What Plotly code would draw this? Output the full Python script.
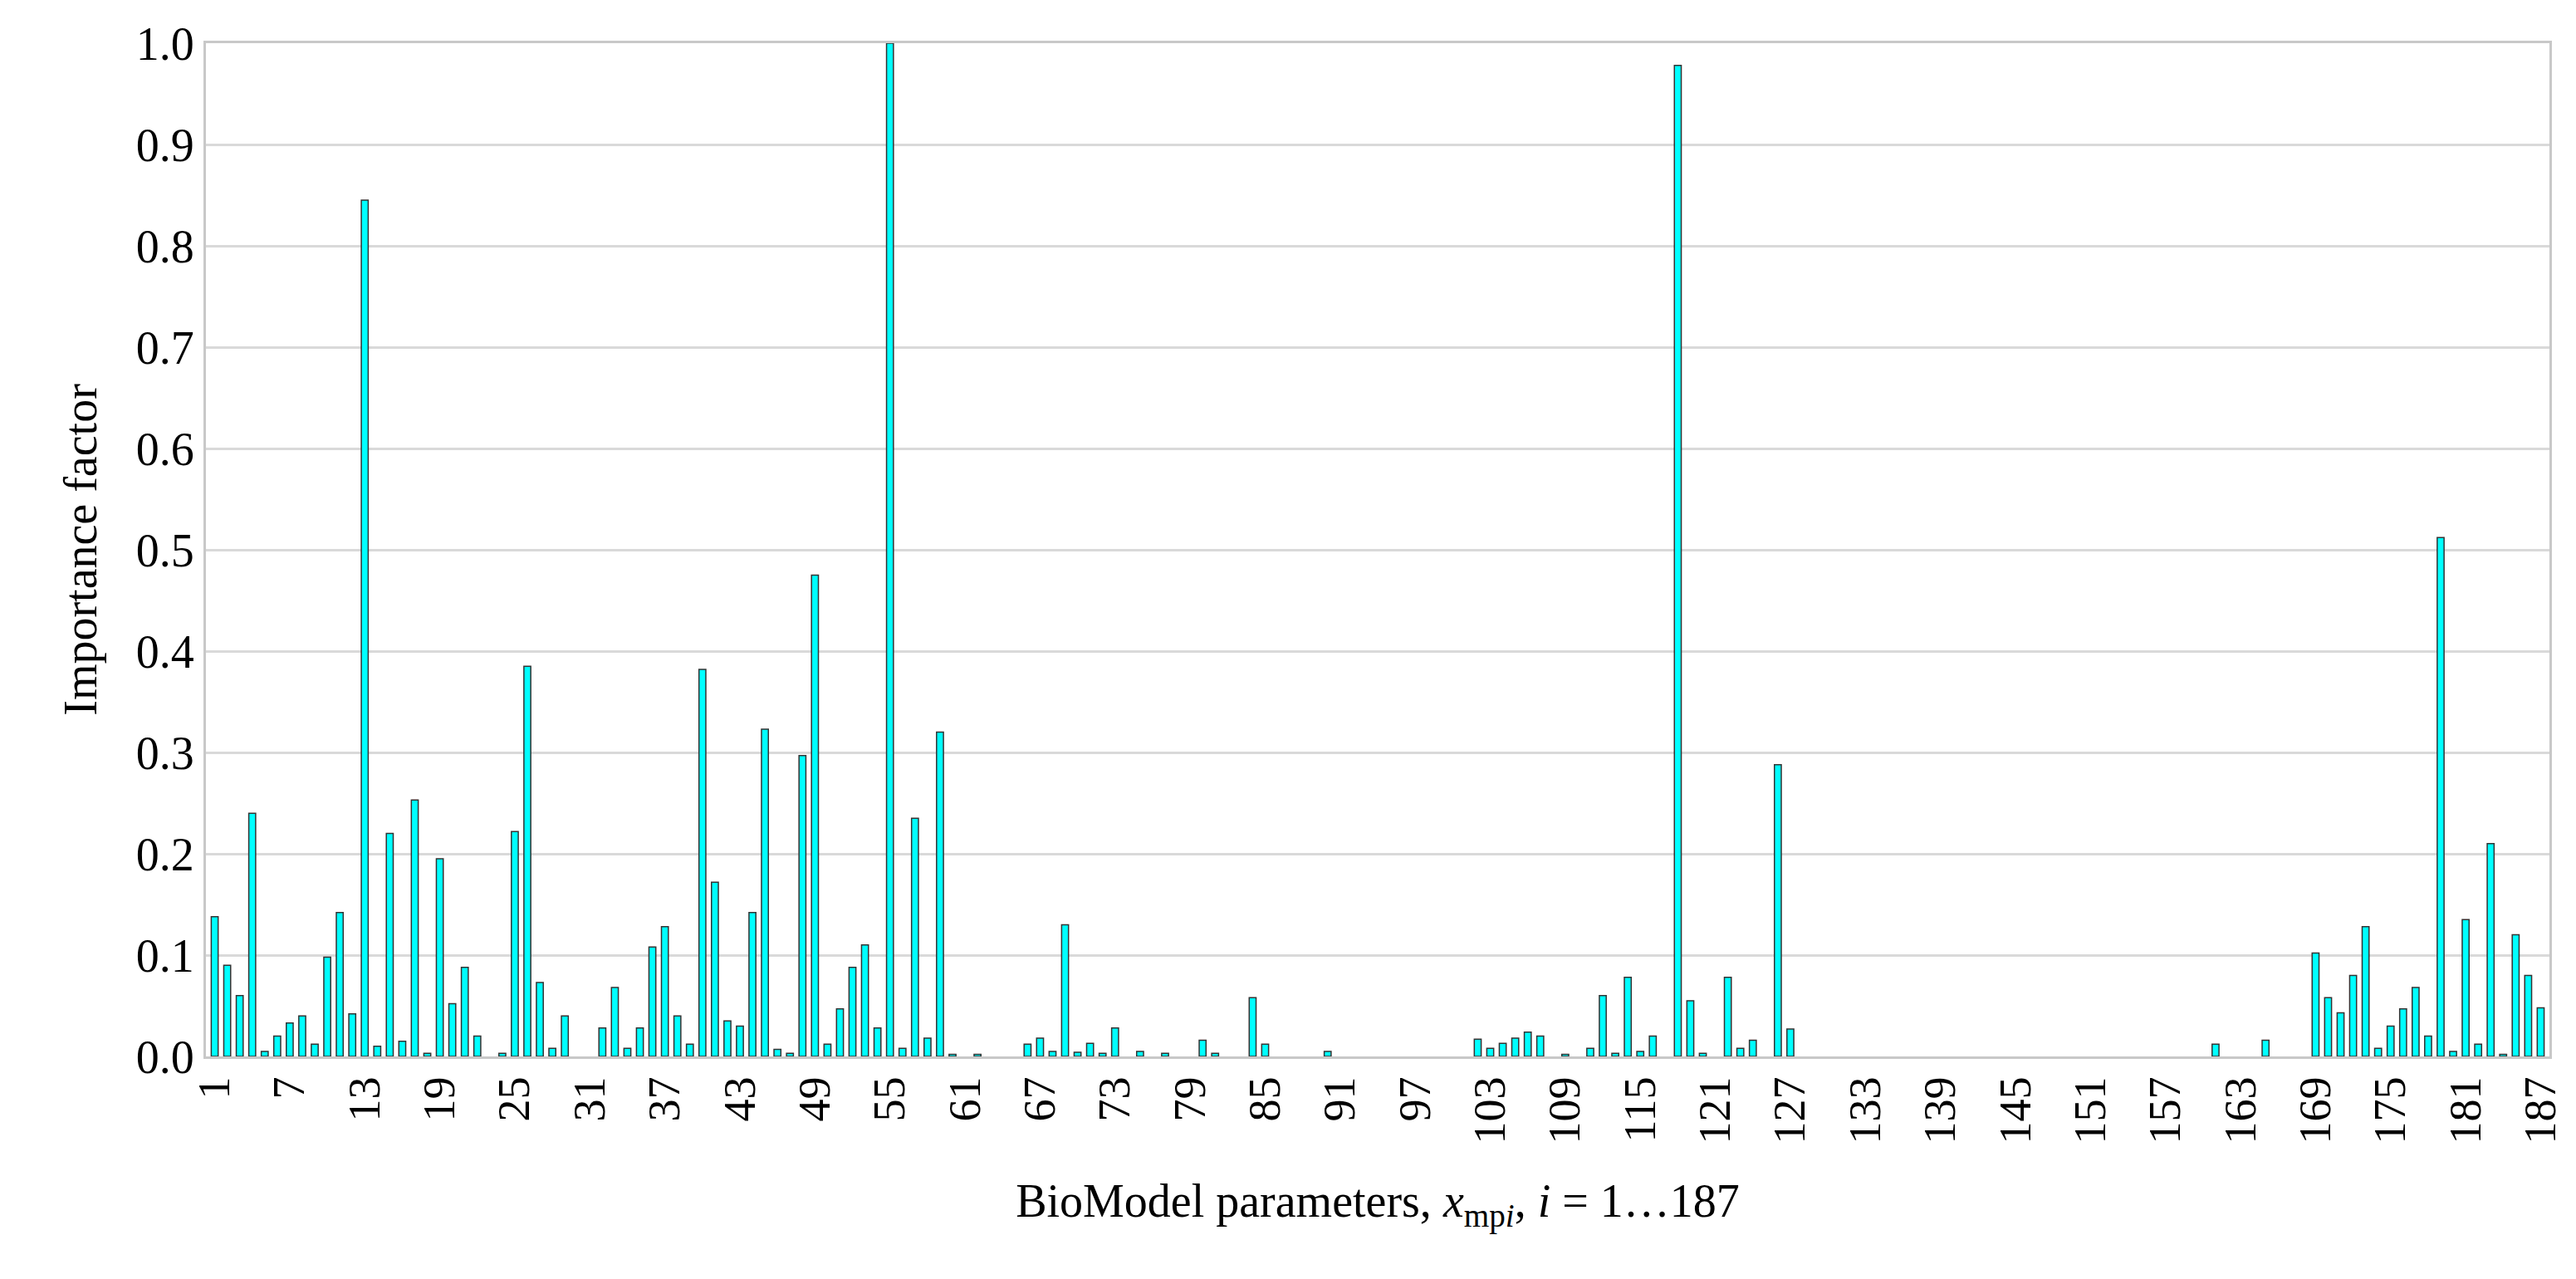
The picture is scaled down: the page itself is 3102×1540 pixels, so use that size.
import plotly.graph_objects as go

params = list(range(1, 188))
importance = [
    0.138, 0.09, 0.06, 0.24, 0.005, 0.02, 0.033, 0.04, 0.012, 0.098,
    0.142, 0.042, 0.845, 0.01, 0.22, 0.015, 0.253, 0.003, 0.195, 0.052,
    0.088, 0.02, 0.0, 0.003, 0.222, 0.385, 0.073, 0.008, 0.04, 0.0,
    0.0, 0.028, 0.068, 0.008, 0.028, 0.108, 0.128, 0.04, 0.012, 0.382,
    0.172, 0.035, 0.03, 0.142, 0.323, 0.007, 0.003, 0.297, 0.475, 0.012,
    0.047, 0.088, 0.11, 0.028, 1.0, 0.008, 0.235, 0.018, 0.32, 0.002,
    0.0, 0.002, 0.0, 0.0, 0.0, 0.012, 0.018, 0.005, 0.13, 0.004,
    0.013, 0.003, 0.028, 0.0, 0.005, 0.0, 0.003, 0.0, 0.0, 0.016,
    0.003, 0.0, 0.0, 0.058, 0.012, 0.0, 0.0, 0.0, 0.0, 0.005,
    0.0, 0.0, 0.0, 0.0, 0.0, 0.0, 0.0, 0.0, 0.0, 0.0,
    0.0, 0.017, 0.008, 0.013, 0.018, 0.024, 0.02, 0.0, 0.002, 0.0,
    0.008, 0.06, 0.003, 0.078, 0.005, 0.02, 0.0, 0.978, 0.055, 0.003,
    0.0, 0.078, 0.008, 0.016, 0.0, 0.288, 0.027, 0.0, 0.0, 0.0,
    0.0, 0.0, 0.0, 0.0, 0.0, 0.0, 0.0, 0.0, 0.0, 0.0,
    0.0, 0.0, 0.0, 0.0, 0.0, 0.0, 0.0, 0.0, 0.0, 0.0,
    0.0, 0.0, 0.0, 0.0, 0.0, 0.0, 0.0, 0.0, 0.0, 0.0,
    0.012, 0.0, 0.0, 0.0, 0.016, 0.0, 0.0, 0.0, 0.102, 0.058,
    0.043, 0.08, 0.128, 0.008, 0.03, 0.047, 0.068, 0.02, 0.512, 0.005,
    0.135, 0.012, 0.21, 0.002, 0.12, 0.08, 0.048,
]
tick_vals = list(range(1, 188, 6)) + [187]
y_ticks = [0.0, 0.1, 0.2, 0.3, 0.4, 0.5, 0.6, 0.7, 0.8, 0.9, 1.0]

font = "Liberation Serif"
line_widths = [1.5 if v > 0 else 0 for v in importance]
fig = go.Figure(go.Bar(
    x=params, y=importance,
    marker=dict(color="#00FFFF", line=dict(color="#333333", width=line_widths)),
))
fig.update_layout(
    width=3102, height=1540,
    paper_bgcolor="white", plot_bgcolor="white",
    margin=dict(l=240, r=40, t=44, b=276),
    bargap=0.45, showlegend=False,
    font=dict(family=font, size=54, color="black"),
)
fig.update_xaxes(
    range=[0.3, 187.7], tickvals=tick_vals, ticktext=[str(v) for v in tick_vals],
    tickangle=-90, tickfont=dict(size=54), showgrid=False,
    showline=True, linecolor="#c8c8c8", linewidth=3, mirror=True,
    ticks="", title=dict(text="BioModel parameters, <i>x</i><sub>mp<i>i</i></sub>, <i>i</i> = 1…187",
                         font=dict(size=56), standoff=50),
)
fig.update_yaxes(
    range=[0, 1.0], tickvals=y_ticks, ticktext=[f"{v:.1f}" for v in y_ticks],
    tickfont=dict(size=56), showgrid=True, gridcolor="#d9d9d9", gridwidth=3,
    showline=True, linecolor="#c8c8c8", linewidth=3, mirror=True, zeroline=False,
    ticks="", title=dict(text="Importance factor", font=dict(size=56), standoff=30),
)
fig.write_html("out.html")
